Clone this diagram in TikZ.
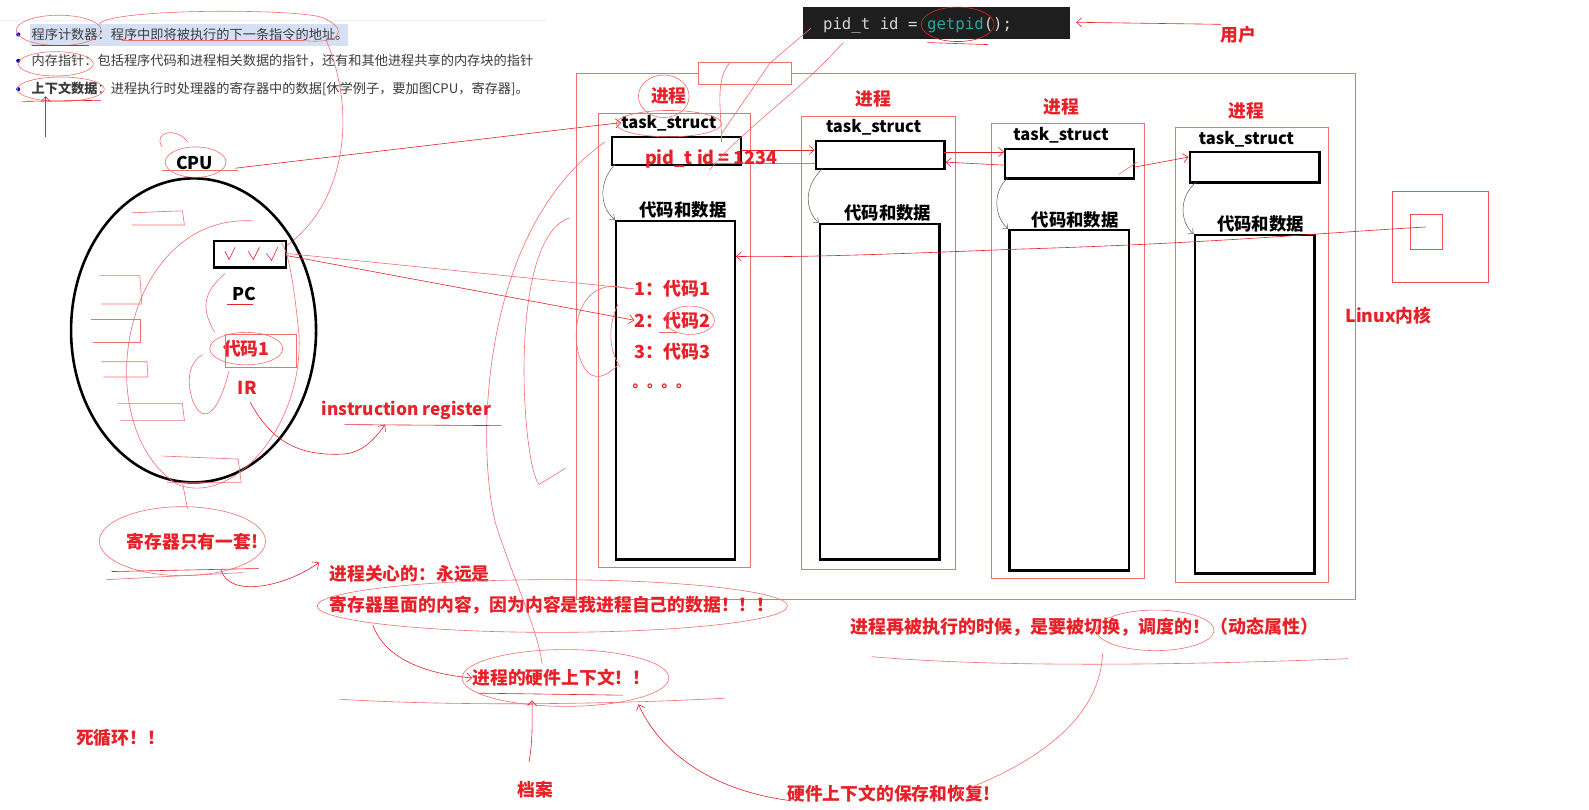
\documentclass[tikz,border=0pt]{standalone}
\usepackage{fontspec}
\usetikzlibrary{fit,shapes.geometric,arrows.meta}
\newfontfamily\cjk{Noto Sans CJK SC}
\newfontfamily\monof{DejaVu Sans Mono}
\definecolor{mred}{RGB}{232,32,40}
\definecolor{lred}{RGB}{240,110,110}
\definecolor{gtext}{RGB}{60,60,60}
\definecolor{codebg}{RGB}{30,30,30}
\definecolor{codefg}{RGB}{212,212,212}
\definecolor{codeteal}{RGB}{40,165,155}
\definecolor{hl}{RGB}{214,224,245}
\tikzset{
 redlbl/.style={font=\cjk\bfseries\fontsize{17.8}{20}\selectfont, text=mred, inner sep=0},
 blklbl/.style={font=\cjk\bfseries\fontsize{16.5}{19}\selectfont, text=black, inner sep=0},
 graytxt/.style={font=\cjk\fontsize{13.2}{16}\selectfont, text=gtext, inner sep=0, anchor=west},
 blkbox/.style={draw=black, line width=2.4pt, inner sep=0},
 prbox/.style={draw=lred, line width=0.7pt, inner sep=0},
 pen/.style={draw=mred, line width=0.6pt},
 lpen/.style={draw=lred, line width=0.6pt},
 rarr/.style={pen, -{Straight Barb[length=5pt,width=9pt]}},
 garr/.style={draw=gray!70!black, line width=0.5pt, -{Straight Barb[length=4pt,width=7pt]}},
}
\begin{document}
\begin{tikzpicture}[x=1.0134pt,y=-1.0134pt]
\useasboundingbox[fill=white] (0,0) rectangle (1568,799);

% ---------- notes top left
\draw[gray!12, line width=1pt] (0,20) -- (540,20);
\fill[hl] (30,24) rectangle (343,45);
\fill[blue!80!black] (18,34) circle[radius=2];
\fill[blue!80!black] (18,60) circle[radius=2];
\fill[blue!80!black] (18,88) circle[radius=2];
\node[graytxt] (n1) at (31,34) {程序计数器：程序中即将被执行的下一条指令的地址。};
\node[graytxt] (n2) at (31,60) {内存指针：包括程序代码和进程相关数据的指针，还有和其他进程共享的内存块的指针};
\node[graytxt] (n3) at (31,88) {{\bfseries 上下文数据}：进程执行时处理器的寄存器中的数据[休学例子，要加图CPU，寄存器]。};
\draw[lpen] (58,30) ellipse[x radius=42,y radius=15];
\draw[lpen] (98,24) .. controls (105,8) and (300,8) .. (320,18) .. controls (345,30) and (335,44) .. (300,40) -- (120,40);
\draw[lpen] (55,63) ellipse[x radius=37,y radius=12];
\draw[lpen] (60,88) ellipse[x radius=43,y radius=12];
\draw[pen] (32,45) -- (88,45);
\draw[pen] (22,100) -- (100,99);
\coordinate (arrA) at (45,135);
\draw[rarr] (arrA) -- (n3.south west -| arrA);
\draw[lpen] (322,40) .. controls (352,110) and (342,200) .. (282,243);

% ---------- code line
\node[fill=codebg, fit={(792,7)(1056,38)}, inner sep=0] (code) {};
\node[anchor=west, font=\monof\fontsize{15.7}{18}\selectfont, text=codefg, inner sep=0] (codetxt) at (812,25) {pid\_t id = \textcolor{codeteal}{getpid}();};
\draw[pen] (945,24) ellipse[x radius=36,y radius=17];
\draw[pen] (915,42) -- (975,44);
\node[redlbl] (user) at (1222,34) {用户};
\coordinate (uA) at (1205,24);
\coordinate (uB) at (1062,22);
\draw[rarr] (uA) -- (uB);

% ---------- kernel
\node[prbox, fit={(569,72)(1337,591)}] (kernel) {};
\node[prbox, fill=white, fit={(689,62)(781,83)}] (kbox) {};

% ---------- processes
\node[prbox, fit={(590,112)(740,560)}] (p1) {};
\node[prbox, fit={(791,115)(943,562)}] (p2) {};
\node[prbox, fit={(978,122)(1129,571)}] (p3) {};
\node[prbox, fit={(1160,126)(1311,575)}] (p4) {};
\node[redlbl] (jc1) at (660,95) {进程};
\node[redlbl] (jc2) at (862,98) {进程};
\node[redlbl] (jc3) at (1047,105) {进程};
\node[redlbl] (jc4) at (1230,109) {进程};
\node[blklbl] (ts1) at (660,122) {task\_struct};
\node[blklbl] (ts2) at (862,126) {task\_struct};
\node[blklbl] (ts3) at (1047,133) {task\_struct};
\node[blklbl] (ts4) at (1230,137) {task\_struct};
\node[blkbox, fit={(604,135)(731,163)}] (t1) {};
\node[blkbox, fit={(805,139)(932,167)}] (t2) {};
\node[blkbox, fit={(992,147)(1119,176)}] (t3) {};
\node[blkbox, fit={(1174,150)(1302,180)}] (t4) {};
\node[blklbl, font=\cjk\bfseries\fontsize{17.4}{20}\selectfont] (cd1) at (674,207) {代码和数据};
\node[blklbl, font=\cjk\bfseries\fontsize{17.4}{20}\selectfont] (cd2) at (876,210) {代码和数据};
\node[blklbl, font=\cjk\bfseries\fontsize{17.4}{20}\selectfont] (cd3) at (1061,217) {代码和数据};
\node[blklbl, font=\cjk\bfseries\fontsize{17.4}{20}\selectfont] (cd4) at (1244,221) {代码和数据};
\node[blkbox, fit={(608,218)(725,552)}] (d1) {};
\node[blkbox, fit={(809,221)(927,552)}] (d2) {};
\node[blkbox, fit={(996,227)(1114,563)}] (d3) {};
\node[blkbox, fit={(1179,232)(1297,566)}] (d4) {};
% gray links task_struct -> code
\draw[garr] (t1.south west) ++(4,-2) .. controls (590,180) and (592,205) .. (d1.north west);
\draw[garr] (t2.south west) ++(8,-2) .. controls (792,185) and (795,208) .. (d2.north west);
\draw[garr] (t3.south west) ++(4,-2) .. controls (978,190) and (982,215) .. (d3.north west);
\draw[garr] (t4.south west) ++(8,-2) .. controls (1162,195) and (1165,220) .. (d4.north west);
% red links between task_structs
\draw[rarr] (731,148) -- (t2.west |- 0,148);
\draw[lpen] (700,161) -- (t2.west |- 0,161);
\draw[rarr] (932,150) -- (t3.west |- 0,150);
\draw[rarr] (992,163) -- (t2.east |- 0,160);
\draw[rarr] (1119,165) -- (t4.west |- 0,155);
\draw[lpen] (1104,172) -- (1122,160);
% process 1 content
\node[redlbl, font=\cjk\bfseries\fontsize{18}{20}\selectfont] (pid) at (702,157) {pid\_t id = 1234};
\node[redlbl, font=\cjk\bfseries\fontsize{18}{20}\selectfont, anchor=west] (c1) at (626,285) {1：代码1};
\node[redlbl, font=\cjk\bfseries\fontsize{18}{20}\selectfont, anchor=west] (c2) at (626,316) {2：代码2};
\node[redlbl, font=\cjk\bfseries\fontsize{18}{20}\selectfont, anchor=west] (c3) at (626,347) {3：代码3};
\node[redlbl, font=\cjk\bfseries\fontsize{14.5}{16}\selectfont, anchor=west] (c4) at (624,381) {。。。。};
\draw[lpen] (681,316) ellipse[x radius=24,y radius=14];
\draw[lpen] (650,328) -- (668,328);
\draw[lpen] (655,95) ellipse[x radius=25,y radius=21];
\draw[lpen] (660,122) ellipse[x radius=52,y radius=13];
\draw[lpen] (800,28) -- (760,62) -- (712,132);
\draw[lpen] (832,42) .. controls (790,90) and (730,130) .. (700,168);
\draw[lpen] (720,62) .. controls (705,80) and (712,110) .. (712,140);
\draw[lpen] (620,285) .. controls (570,270) and (560,330) .. (575,360) .. controls (585,380) and (600,370) .. (610,360);
\draw[lpen] (610,300) .. controls (600,320) and (600,345) .. (612,362);
% long curves on the left of process 1
\draw[lpen] (597,140) .. controls (470,230) and (470,450) .. (490,520) .. controls (510,580) and (530,620) .. (535,655);
\draw[lpen] (562,215) .. controls (500,235) and (515,460) .. (532,478) -- (558,462);

% ---------- right side
\node[prbox, draw=mred!80, fit={(1374,189)(1469,279)}] (big) {};
\node[prbox, draw=mred!80, fit={(1392,212)(1423,246)}] (small) {};
\node[redlbl] (linux) at (1370,311) {Linux内核};
\draw[rarr] (1407,224) .. controls (1300,230) and (1200,240) .. (1000,246) .. controls (850,252) and (780,254) .. (d1.east |- 0,253);

% ---------- CPU
\node[draw=black, line width=2.6pt, ellipse, minimum width=245pt, minimum height=304pt, inner sep=0] (cpu) at (191,326) {};
\node[blklbl, font=\cjk\bfseries\fontsize{17.5}{20}\selectfont] (cpul) at (192,161) {CPU};
\draw[lpen] (193,160) ellipse[x radius=30,y radius=15];
\draw[lpen] (160,168) -- (235,168);
\draw[lpen] (160,145) .. controls (150,130) and (175,125) .. (185,140);
\draw[rarr] (232,166) -- (ts1.west |- 0,121);
\node[blkbox, fit={(211,238)(282,264)}] (pc) {};
\draw[pen] (222,248) -- (226,256) -- (232,244);
\draw[pen] (245,248) -- (250,256) -- (256,244);
\draw[pen] (263,250) -- (268,257) -- (274,244);
\node[blklbl, font=\cjk\bfseries\fontsize{17.5}{20}\selectfont] (pcl) at (241,290) {PC};
\draw[pen] (224,300) -- (250,300);
\draw[lpen] (282,250) -- (c1.west);
\draw[rarr] (282,252) -- (c2.west);
\node[redlbl] (code1) at (243,344) {代码1};
\draw[lpen] (243,344) ellipse[x radius=36,y radius=16];
\draw[lpen] (222,330) rectangle (292,362);
\node[redlbl] (ir) at (244,383) {IR};
\node[redlbl, font=\cjk\bfseries\fontsize{17.3}{20}\selectfont] (instr) at (401,405) {instruction register};
\draw[pen] (340,419) -- (495,420);
\draw[rarr] (247,397) .. controls (270,440) and (300,450) .. (340,448) .. controls (360,446) and (372,430) .. (380,419);
\draw[lpen] (212,328) .. controls (195,300) and (205,285) .. (222,270);
\draw[lpen] (226,366) .. controls (215,410) and (200,420) .. (190,395) .. controls (182,370) and (190,355) .. (200,350);
% register scribbles
\draw[lpen] (130,210) -- (180,208) -- (182,222) -- (130,222);
\draw[lpen] (98,272) -- (138,272) -- (140,300) -- (100,300);
\draw[lpen] (90,315) -- (138,315) -- (138,338) -- (92,338);
\draw[lpen] (100,357) -- (145,357) -- (146,372) -- (102,372);
\draw[lpen] (116,398) -- (180,398) -- (182,415) -- (118,415);
\draw[lpen] (160,450) -- (235,453) -- (238,476) -- (165,476);
\draw[lpen] (250,218) .. controls (120,210) and (85,420) .. (175,478) .. controls (230,500) and (300,420) .. (295,330) .. controls (290,280) and (285,250) .. (278,240);

% ---------- bottom notes
\node[redlbl] (reg1) at (190,535) {寄存器只有一套!};
\draw[lpen] (180,534) ellipse[x radius=82,y radius=34];
\draw[pen] (110,564) -- (255,561);
\draw[lpen] (105,572) -- (240,565);
\draw[lpen] (185,502) -- (180,476);
\draw[rarr] (218,562) .. controls (225,590) and (280,580) .. (315,555);
\node[redlbl, anchor=west] (care1) at (325,566) {进程关心的：永远是};
\node[redlbl, anchor=west] (care2) at (325,597) {寄存器里面的内容，因为内容是我进程自己的数据！！！};
\draw[lpen] (545,598) ellipse[x radius=232,y radius=26];
\node[redlbl, anchor=west] (hw) at (466,669) {进程的硬件上下文！！};
\draw[lpen] (558,669) ellipse[x radius=102,y radius=28];
\draw[pen] (472,684) -- (615,686);
\draw[rarr] (368,617) .. controls (380,650) and (420,665) .. (hw.west);
\draw[lpen] (335,690) .. controls (450,697) and (600,695) .. (715,689);
\node[redlbl] (dang) at (528,779) {档案};
\draw[rarr] (522,752) .. controls (526,730) and (525,710) .. (525,691);
\node[redlbl] (save) at (877,783) {硬件上下文的保存和恢复!};
\draw[rarr] (780,790) .. controls (700,780) and (650,740) .. (630,695);
\draw[lpen] (1088,645) .. controls (1085,720) and (1000,760) .. (958,777);
\node[redlbl, font=\cjk\bfseries\fontsize{18}{20}\selectfont] (sched) at (1070,619) {进程再被执行的时候，是要被切换，调度的！（动态属性）};
\draw[lpen] (1140,622) ellipse[x radius=58,y radius=20];
\draw[lpen] (860,648) .. controls (1000,660) and (1200,655) .. (1330,650);
\node[redlbl] (loop) at (119,728) {死循环！！};
\end{tikzpicture}
\end{document}
